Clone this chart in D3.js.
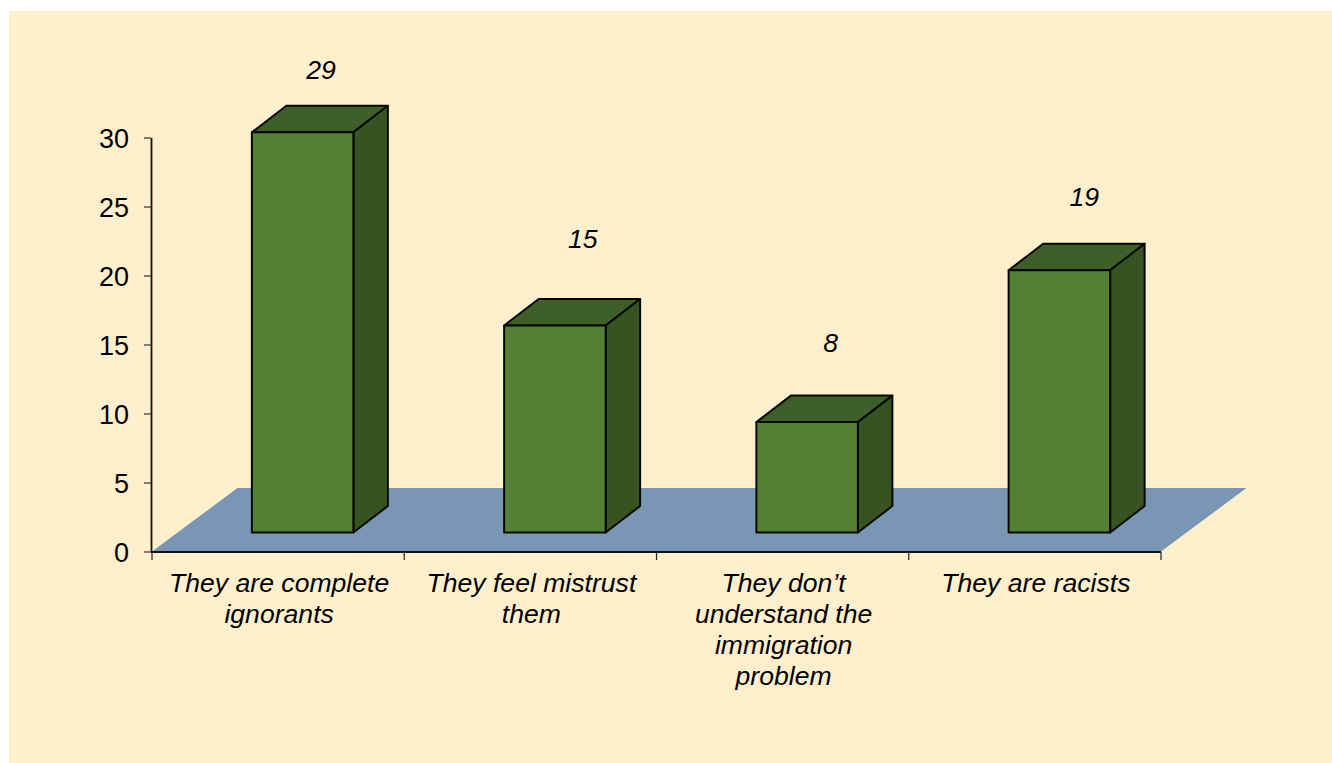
<!DOCTYPE html>
<html><head><meta charset="utf-8">
<script src="https://cdnjs.cloudflare.com/ajax/libs/d3/7.8.5/d3.min.js"></script>
<style>html,body{margin:0;padding:0;background:#fff;overflow:hidden}svg{display:block}text{font-family:"Liberation Sans",Arial,sans-serif;fill:#000}</style>
</head><body><svg id="c" width="1332" height="763"></svg>
<script>
const categories = [["They are complete","ignorants"],["They feel mistrust","them"],["They don’t","understand the","immigration","problem"],["They are racists"]];
const values = [29,15,8,19];
const yTicks = [0,5,10,15,20,25,30];
const labelNudgeX = [18.5,28,23.5,25];
const labelNudgeY = [53,78,70,64];

const svg = d3.select("#c");
svg.append("rect").attr("x",9).attr("y",11).attr("width",1323).attr("height",752).attr("fill","#fef0cd");

const x = d3.scaleBand().domain(d3.range(values.length)).range([152,1161]).paddingInner(0).paddingOuter(0);
const y = d3.scaleLinear().domain([0,30]).range([551.5,137.5]);
const floorDx=85.5, floorDy=-63.5, barShiftX=24.5, barShiftY=-19, depthX=34.5, depthY=-26.5, barW=101.5;
const FS=26.6;

// floor
svg.append("path").attr("fill","#7a96b5")
  .attr("d",`M152,551.5L${152+floorDx},${551.5+floorDy}L${1161+floorDx},${551.5+floorDy}L1161,551.5Z`);

// bars
const g = svg.selectAll("g.bar").data(values).join("g").attr("class","bar");
const L = i => x(i)+x.bandwidth()/2+barShiftX-barW/2;
const base = y(0)+barShiftY;
const top_ = d => y(d)+barShiftY;
const stroke = {stroke:"#050802","stroke-width":2,"stroke-linejoin":"round"};
function applyS(s){Object.entries(stroke).forEach(([k,v])=>s.attr(k,v));return s;}
applyS(g.append("path").attr("fill","#3f5f28").attr("d",(d,i)=>{
  const l=L(i),t=top_(d);
  return `M${l},${t}L${l+depthX},${t+depthY}L${l+barW+depthX},${t+depthY}L${l+barW},${t}Z`;}));
applyS(g.append("path").attr("fill","#365321").attr("d",(d,i)=>{
  const r=L(i)+barW,t=top_(d);
  return `M${r},${t}L${r+depthX},${t+depthY}L${r+depthX},${base+depthY}L${r},${base}Z`;}));
applyS(g.append("rect").attr("fill","#558033")
  .attr("x",(d,i)=>L(i)).attr("y",d=>top_(d)).attr("width",barW).attr("height",d=>base-top_(d)));

// data labels
svg.selectAll("text.val").data(values).join("text").attr("class","val")
  .attr("x",(d,i)=>L(i)+barW/2+labelNudgeX[i]).attr("y",(d,i)=>top_(d)-labelNudgeY[i])
  .attr("text-anchor","middle").attr("font-style","italic").attr("font-size",FS).text(d=>d);

// y axis
const ya = svg.append("g").attr("transform","translate(151,0)").call(d3.axisLeft(y).tickValues(yTicks).tickSize(7).tickPadding(15).tickSizeOuter(0));
ya.selectAll("path").attr("stroke","#111").attr("stroke-width",1.8);
ya.selectAll("line").attr("stroke","#333").attr("stroke-width",1.2);
ya.selectAll("text").attr("font-size",27).attr("font-family",'"Liberation Sans",Arial,sans-serif').attr("fill","#000").attr("dy","0.36em");

// x axis
const xa = svg.append("g").attr("transform","translate(0,552)");
xa.append("line").attr("x1",151).attr("x2",1161).attr("stroke","#111").attr("stroke-width",1.8);
xa.selectAll("line.t").data(d3.range(values.length+1)).join("line").attr("class","t")
  .attr("x1",i=>i<values.length?x(i):x(i-1)+x.bandwidth()).attr("x2",i=>i<values.length?x(i):x(i-1)+x.bandwidth())
  .attr("y1",0).attr("y2",8).attr("stroke","#222").attr("stroke-width",1.2);

svg.selectAll("text.cat").data(categories).join("text").attr("class","cat")
  .attr("text-anchor","middle").attr("font-style","italic").attr("font-size",FS)
  .each(function(lines,i){
    const t=d3.select(this);
    lines.forEach((s,k)=>t.append("tspan").attr("x",x(i)+x.bandwidth()/2+1).attr("y",592+k*31).text(s));
  });
</script></body></html>
